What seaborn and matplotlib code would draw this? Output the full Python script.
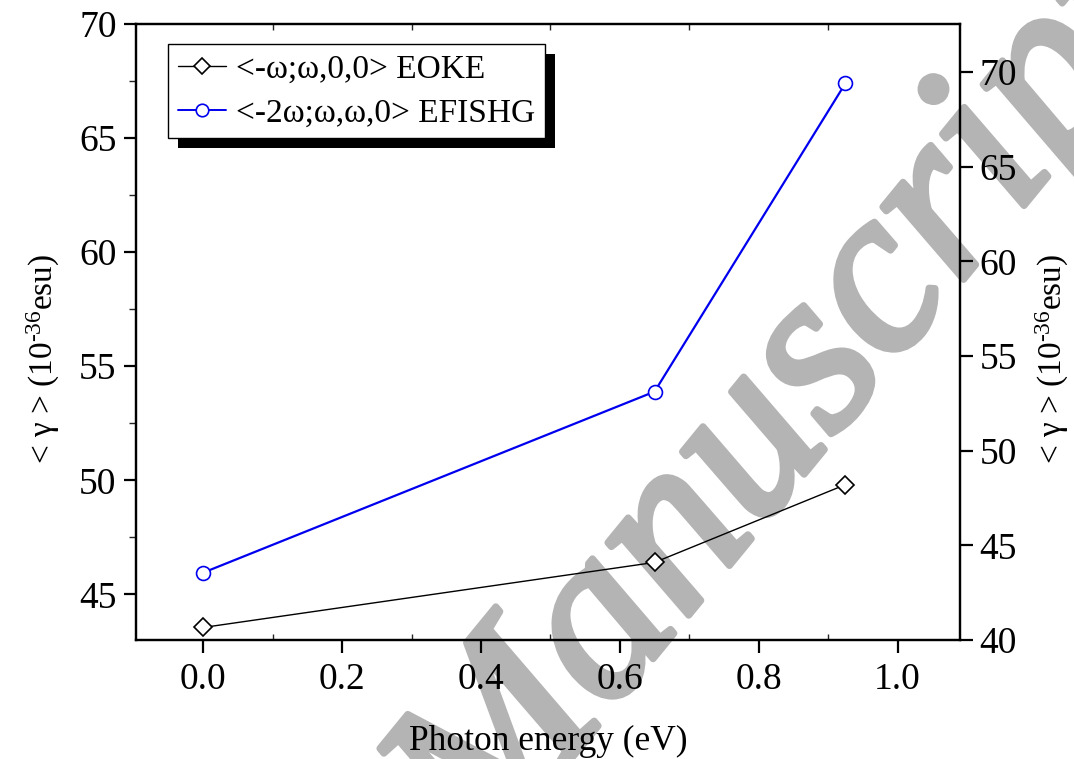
import matplotlib
matplotlib.use("Agg")
import matplotlib.pyplot as plt
import seaborn as sns
import pandas as pd
from matplotlib.patches import Rectangle
from matplotlib.ticker import MultipleLocator
from matplotlib.lines import Line2D
import matplotlib.patheffects as pe

# ---- data ----
energy = [0.0, 0.65, 0.925]
eoke = [43.55, 46.40, 49.81]          # left axis
efishg = [43.56, 53.12, 69.41]        # right axis
label_eoke = "<-ω;ω,0,0> EOKE"
label_efishg = "<-2ω;ω,ω,0> EFISHG"
xticks = [0.0, 0.2, 0.4, 0.6, 0.8, 1.0]
left_ticks = [45, 50, 55, 60, 65, 70]
right_ticks = [40, 45, 50, 55, 60, 65, 70]

sns.set_style("ticks")
plt.rcParams["font.family"] = ["Liberation Serif", "DejaVu Serif"]
plt.rcParams["mathtext.fontset"] = "custom"
plt.rcParams["mathtext.rm"] = "Liberation Serif"
plt.rcParams["mathtext.default"] = "regular"
plt.rcParams["text.color"] = "black"
plt.rcParams["axes.labelcolor"] = "black"

df1 = pd.DataFrame({"x": energy, "y": eoke})
df2 = pd.DataFrame({"x": energy, "y": efishg})

fig = plt.figure(figsize=(10.74, 7.59), dpi=100)
ax = fig.add_axes([136/1074, 1-640/759, (960-136)/1074, (640-24)/759])
ax.set_facecolor("none")
ax2 = ax.twinx()
ax2.set_facecolor("none")

# watermark behind everything
wm_color = "#b4b4b4"
fig.text(785/1074, 1-408/759, "Manuscript", rotation=50.7, fontsize=170,
         style="italic", color=wm_color, ha="center", va="center", zorder=-5,
         path_effects=[pe.withStroke(linewidth=5, foreground=wm_color)])

sns.lineplot(data=df1, x="x", y="y", ax=ax, color="black", linewidth=1.0,
             marker="D", markersize=9, markerfacecolor="white",
             markeredgecolor="black", markeredgewidth=1.2, legend=False)
sns.lineplot(data=df2, x="x", y="y", ax=ax2, color="#0000ee", linewidth=1.6,
             marker="o", markersize=10, markerfacecolor="white",
             markeredgecolor="#0000ee", markeredgewidth=1.2, legend=False)

ax.set_xlim(-0.097, 1.09)
ax.set_ylim(43, 70)
ax2.set_ylim(40, 72.54)
ax.set_xticks(xticks)
ax.set_xticklabels([f"{v:.1f}" for v in xticks])
ax.set_yticks(left_ticks)
ax2.set_yticks(right_ticks)
ax.xaxis.set_minor_locator(MultipleLocator(0.1))
ax.yaxis.set_minor_locator(MultipleLocator(2.5))

for a in (ax, ax2):
    for s in a.spines.values():
        s.set_linewidth(1.6)
        s.set_color("black")
        s.set_visible(True)

ax.tick_params(axis="both", which="major", direction="out", length=9, width=1.6,
               labelsize=27, pad=5, colors="black")
ax.tick_params(axis="x", which="major", pad=7, top=False)
ax.tick_params(axis="x", which="minor", direction="in", length=4, width=1.0,
               top=True, bottom=True)
ax.tick_params(axis="y", which="minor", direction="out", length=5, width=1.0)
ax2.tick_params(axis="y", which="major", direction="out", length=9, width=1.6,
                labelsize=27, pad=5, colors="black")

ax.set_xlabel("Photon energy (eV)", fontsize=25.5)
ax.xaxis.label.set_va("baseline")
ax.xaxis.set_label_coords(0.5, (640-750)/616)

ylab = "< γ > (10$^{\\text{-}36}$esu)"
ax.set_ylabel(ylab, fontsize=24)
ax2.set_ylabel(ylab, fontsize=24)
ax.yaxis.set_label_coords((62-136)/824, (640-359)/616)
ax2.yaxis.set_label_coords((1034-136)/824, (640-359)/616)

handles = [
    Line2D([], [], color="black", linewidth=1.0, marker="D", markersize=8,
           markerfacecolor="white", markeredgecolor="black", markeredgewidth=1.2),
    Line2D([], [], color="#0000ee", linewidth=1.4, marker="o", markersize=9,
           markerfacecolor="white", markeredgecolor="#0000ee", markeredgewidth=1.2),
]
leg = ax2.legend(handles, [label_eoke, label_efishg], loc="upper left",
                 bbox_to_anchor=((168-136)/824, (640-44)/616), borderaxespad=0,
                 fontsize=24, frameon=True, fancybox=False, framealpha=1,
                 edgecolor="black", handlelength=1.45, handletextpad=0.3,
                 borderpad=0.3, labelspacing=0.4)
leg.get_frame().set_linewidth(1.0)
leg.set_zorder(10)

fig.canvas.draw()
bb = leg.get_window_extent()
shadow = Rectangle((bb.x0 + 10, bb.y0 - 10), bb.width, bb.height,
                   transform=None, facecolor="black", edgecolor="none",
                   zorder=9, clip_on=False)
ax2.add_artist(shadow)

fig.savefig("out.png", dpi=100)
